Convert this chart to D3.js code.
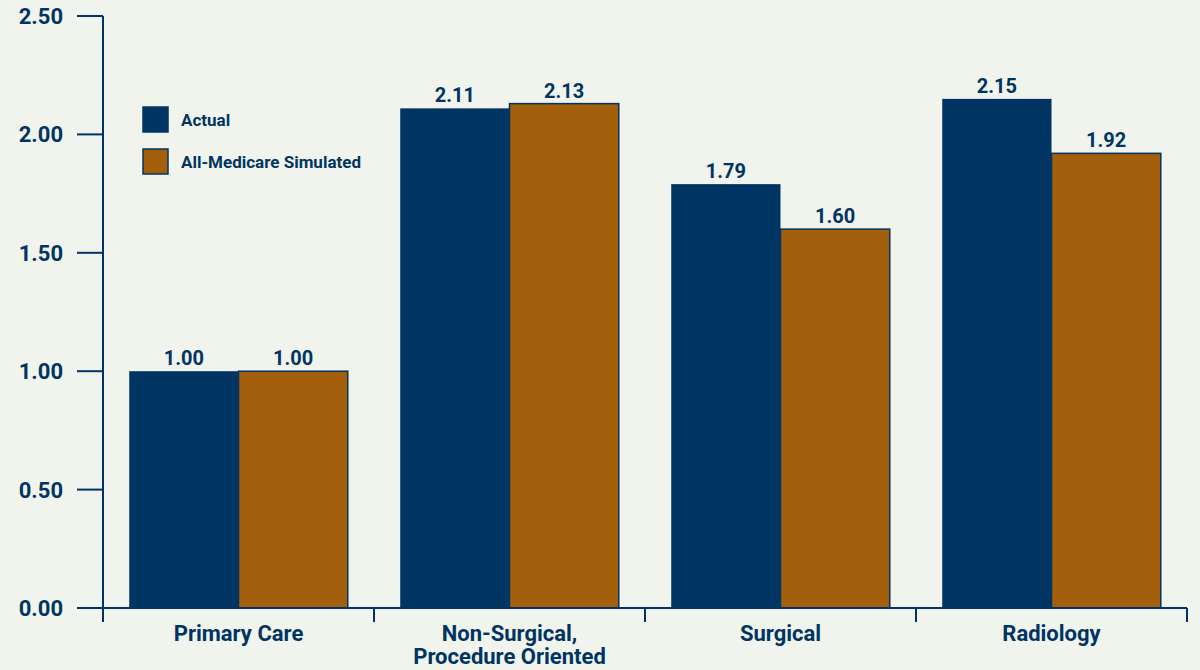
<!DOCTYPE html>
<html>
<head>
<meta charset="utf-8">
<script src="https://d3js.org/d3.v7.min.js"></script>
<style>
  body { margin: 0; background: #f1f4ec; }
  svg { display: block; }
  text { font-family: "Roboto", "Liberation Sans", sans-serif; font-weight: bold; fill: #003462; }
</style>
</head>
<body>
<svg width="1200" height="670"></svg>
<script>
// data
const categories = ["Primary Care", "Non-Surgical, Procedure Oriented", "Surgical", "Radiology"];
const categoryLines = [["Primary Care"], ["Non-Surgical,", "Procedure Oriented"], ["Surgical"], ["Radiology"]];
const seriesNames = ["Actual", "All-Medicare Simulated"];
const actual = [1.00, 2.11, 1.79, 2.15];
const simulated = [1.00, 2.13, 1.60, 1.92];
const yTicks = [0, 0.5, 1, 1.5, 2, 2.5];

const navy = "#003462";
const orange = "#a35f0c";

const svg = d3.select("svg");
const margin = { left: 103, right: 13, top: 16, bottom: 62 };
const width = 1200, height = 670;

const x = d3.scaleBand().domain(categories).range([margin.left, width - margin.right]).paddingInner(0).paddingOuter(0);
const x1 = d3.scaleBand().domain(seriesNames).range([0, x.bandwidth()]).paddingOuter(0.24).paddingInner(0);
const y = d3.scaleLinear().domain([0, 2.5]).range([height - margin.bottom, margin.top]);

// bars
const rows = categories.map((c, i) => ({ cat: c, vals: [actual[i], simulated[i]] }));
const groups = svg.append("g").selectAll("g")
    .data(rows).enter().append("g")
    .attr("transform", d => `translate(${x(d.cat)},0)`);

groups.selectAll("rect")
    .data(d => d.vals.map((v, j) => ({ name: seriesNames[j], v })))
    .enter().append("rect")
    .attr("x", d => x1(d.name))
    .attr("y", d => y(d.v))
    .attr("width", x1.bandwidth())
    .attr("height", d => y(0) - y(d.v))
    .attr("fill", d => d.name === "Actual" ? navy : orange)
    .attr("stroke", d => d.name === "Actual" ? "none" : navy)
    .attr("stroke-width", 1.5);

groups.selectAll("text.val")
    .data(d => d.vals.map((v, j) => ({ name: seriesNames[j], v })))
    .enter().append("text")
    .attr("class", "val")
    .attr("x", d => x1(d.name) + x1.bandwidth() / 2)
    .attr("y", d => y(d.v) - 6)
    .attr("text-anchor", "middle")
    .attr("font-size", 20)
    .text(d => d.v.toFixed(2));

// y axis
const axis = svg.append("g");
axis.append("line")
    .attr("x1", margin.left).attr("x2", margin.left)
    .attr("y1", y(2.5)).attr("y2", y(0))
    .attr("stroke", navy).attr("stroke-width", 2);
yTicks.forEach(t => {
    axis.append("line")
        .attr("x1", margin.left - 26).attr("x2", margin.left)
        .attr("y1", y(t)).attr("y2", y(t))
        .attr("stroke", navy).attr("stroke-width", 2);
    axis.append("text")
        .attr("x", 63).attr("y", y(t))
        .attr("dy", "0.36em")
        .attr("text-anchor", "end")
        .attr("font-size", 22)
        .text(t.toFixed(2));
});

// x axis
axis.append("line")
    .attr("x1", margin.left).attr("x2", width - margin.right)
    .attr("y1", y(0)).attr("y2", y(0))
    .attr("stroke", navy).attr("stroke-width", 2);
const bounds = categories.map(c => x(c)).concat([x.range()[1]]);
bounds.forEach(b => {
    axis.append("line")
        .attr("x1", b).attr("x2", b)
        .attr("y1", y(0)).attr("y2", y(0) + 14)
        .attr("stroke", navy).attr("stroke-width", 2);
});
categories.forEach((c, i) => {
    const t = axis.append("text")
        .attr("x", x(c) + x.bandwidth() / 2)
        .attr("y", y(0) + 33)
        .attr("text-anchor", "middle")
        .attr("font-size", 22);
    categoryLines[i].forEach((line, k) => {
        t.append("tspan")
            .attr("x", x(c) + x.bandwidth() / 2)
            .attr("dy", k === 0 ? 0 : 23)
            .text(line);
    });
});

// legend
const legend = svg.append("g").attr("transform", "translate(143,107)");
seriesNames.forEach((s, i) => {
    legend.append("rect")
        .attr("x", 0).attr("y", i * 42)
        .attr("width", 25).attr("height", 25)
        .attr("fill", i === 0 ? navy : orange)
        .attr("stroke", navy).attr("stroke-width", 1.5);
    legend.append("text")
        .attr("x", 38).attr("y", i * 42 + 13)
        .attr("dy", "0.36em")
        .attr("font-size", 17)
        .text(s);
});
</script>
</body>
</html>
